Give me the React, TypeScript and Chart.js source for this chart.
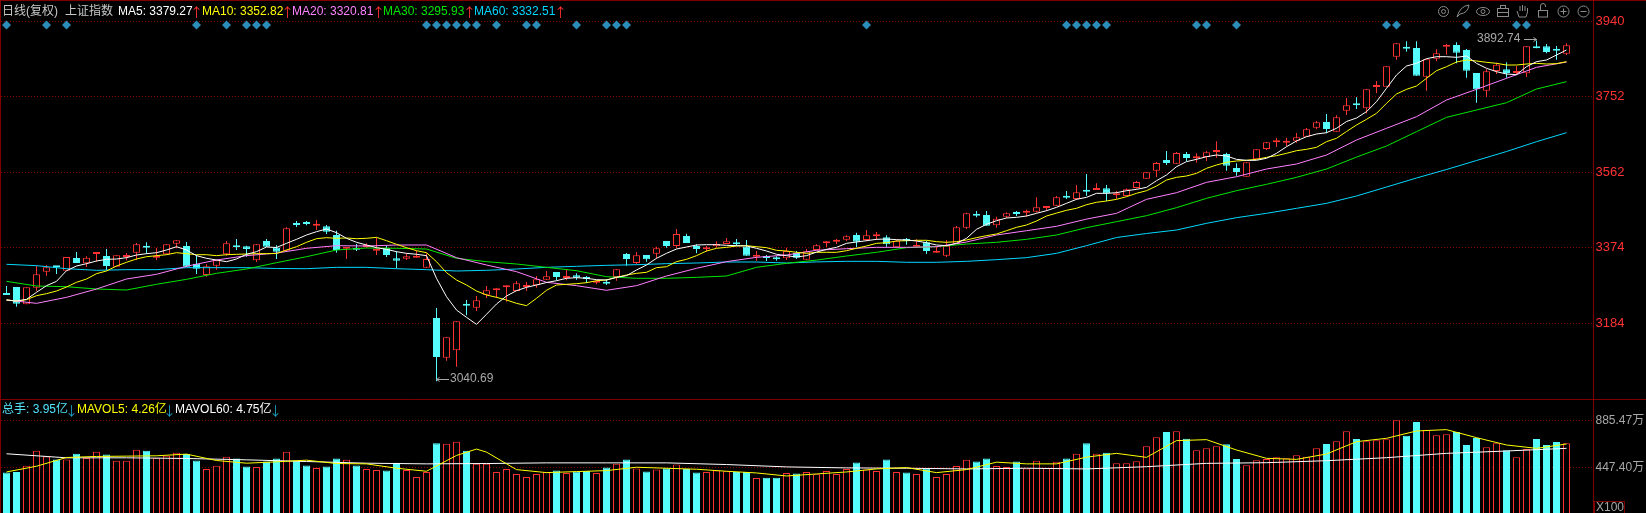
import React, { useEffect, useRef } from "react";
import { Chart, registerables } from "chart.js";

Chart.register(...registerables);

const opens = [3261.25,3276.25,3233,3274.5,3314.5,3328.75,3317,3348.75,3335.5,3358.75,
3353.75,3327,3351,3362,3376,3349.5,3358,3384.5,3378.75,3334.5,
3306,3329.5,3358,3377,3378,3343,3391,3375,3367,3436,
3438.75,3429.5,3428,3406,3372,3373,3376,3367,3374.5,3348,
3347,3349.5,3324.5,3198.75,3099.5,3118,3233,3224.5,3257,3268,
3275.5,3266.25,3276.25,3280.5,3294.5,3313.75,3298.75,3305.5,3298,3287,
3288,3301.25,3358.75,3336.25,3356.25,3359.5,3391,3378.75,3403.75,3378.75,
3370.5,3378,3383.75,3384.5,3377,3352,3350.5,3347,3348,3361.25,
3344.5,3368.75,3385.5,3389.5,3394.5,3406.25,3393.75,3403,3400.5,3375.5,
3393.75,3377,3388,3362,3354.5,3384.5,3424.5,3456.25,3456.25,3430.5,
3452,3462,3462,3464.5,3473.75,3479.5,3503,3496.25,3516.25,3518.75,
3523,3505.5,3503.75,3523.75,3547,3567,3593.75,3584.5,3608.75,3598,
3601.25,3613.75,3608.75,3573.75,3552,3595.5,3621.25,3638,3637,3642,
3652,3674.5,3688.75,3664.5,3717,3733,3723,3776.25,3777,3852,
3874.5,3873.75,3802,3847,3877,3881.25,3868.75,3811.25,3767,3816.25,
3820.5,3811.25,3810.5,3878,3878,3868.75,3859.5];

const closes = [3256.25,3234.5,3275.5,3308,3325.5,3325.5,3351,3336.25,3349.5,3360.5,
3328.75,3355.5,3355.5,3383,3374.5,3352,3383,3393,3327,3322,
3328,3343,3385.5,3375.5,3371,3383,3377,3364.5,3423,3431,
3433.75,3432,3414.5,3368.75,3374.5,3369.5,3378.75,3370.5,3356,3342,
3353,3354.5,3346,3101.25,3150.5,3190.5,3229.5,3243,3268,3273,
3280.5,3285.5,3279.5,3295.5,3303,3301,3301.25,3299.5,3296.25,3292,
3284.5,3320.5,3346.25,3355.5,3345.5,3373,3378.75,3408.75,3386,3371,
3373,3383.75,3390.5,3383,3354.5,3353.75,3348.75,3345.5,3366.25,3349.5,
3365.5,3380.5,3388.75,3391,3403,3389.5,3405.5,3404.5,3383,3392,
3392,3378.75,3366.25,3363.75,3379.5,3425.5,3460.5,3454.5,3429.5,3447,
3460.5,3458.75,3466.25,3475.5,3478,3500.5,3499.5,3513,3514.5,3523,
3510.5,3508,3520.5,3538.75,3563,3586.25,3586.25,3611.25,3598.75,3599.5,
3613,3618.75,3579.5,3563.75,3588,3620.5,3638,3639.5,3638.75,3650.5,
3670.5,3688,3671.25,3700.5,3730.5,3730.5,3770.5,3777.5,3828,3885.5,
3872,3804.5,3845.5,3860.5,3879.5,3862,3817,3770.5,3815.5,3832,
3811.25,3816.25,3878,3873,3863.75,3867,3880.5];

const highs = [3278.75,3276.25,3275.5,3328.75,3331,3328.75,3351,3363.75,3353,3360.5,
3371,3355.5,3361,3386,3388,3374.5,3383,3393,3388.75,3356,
3333,3343.75,3391,3396,3379.5,3383,3396,3380.5,3425.5,3441,
3441,3443.75,3431,3417,3374.5,3383.75,3385.5,3399.5,3378.75,3365.5,
3360.5,3367,3360.5,3223.75,3150.5,3190.5,3243.75,3253.75,3278.75,3273,
3280.5,3291,3288.75,3303.75,3316.25,3313.75,3318.75,3310.5,3303.75,3293.75,
3295.5,3320.5,3361.25,3363.75,3356.25,3377,3391,3421,3409.5,3383,
3378.75,3390.5,3398.75,3396,3393.75,3366,3356.25,3353,3374.5,3366.25,
3371.25,3383,3391,3396,3405.5,3412,3418.75,3413.75,3405.5,3395,
3398.75,3395.5,3392,3377,3393.75,3428.75,3462,3466.25,3466.25,3452,
3463,3466.25,3469.5,3500.5,3478,3503.75,3516.25,3531.25,3558.75,3535.5,
3531.25,3516.25,3522.5,3541.25,3563,3588.75,3616.25,3613.75,3613.75,3610.5,
3616.25,3640.5,3612,3585.5,3588,3620.5,3638.75,3648.75,3649.5,3661.25,
3673.75,3691.25,3708.75,3705.5,3748.75,3750.5,3770.5,3791.25,3828,3885.5,
3890.5,3890.5,3845.5,3870.5,3883.75,3888,3871.25,3811.25,3820.5,3837,
3838,3828.75,3878,3892.74,3883.75,3878.75,3885.5];

const lows = [3256.25,3227,3233,3266,3304.5,3308.75,3317,3336.25,3326,3339.5,
3318.75,3327,3343,3344.5,3359.5,3343.75,3358,3373,3327,3308.75,
3302,3319.5,3354.5,3368.75,3352,3338.75,3377,3346,3367,3426,
3430.5,3418.75,3408.75,3362,3346,3366,3374.5,3356,3351,3323,
3343.75,3349.5,3324.5,3040.69,3092,3077,3205.5,3216.25,3248.75,3249.5,
3239.5,3266.25,3266.25,3274.5,3294.5,3293,3293,3294.5,3286.25,3283,
3281.25,3292,3329.5,3333,3339.5,3348,3374.5,3373,3386,3360.5,
3364.5,3374.5,3383.75,3379.5,3354.5,3342,3341,3342,3343.75,3346.25,
3344.5,3368.75,3376,3383.75,3391,3376.25,3390.5,3394.5,3377,3375.5,
3382,3377,3358.75,3362,3351,3384.5,3421.25,3450.5,3429.5,3424.5,
3448.75,3453.75,3452,3462.5,3467,3479.5,3496.25,3493.75,3504.5,3518.75,
3491.25,3496.25,3503.75,3522.5,3547,3551.25,3581.25,3584.5,3590.5,3587,
3591.25,3599.5,3567,3554.5,3552,3595.5,3618.75,3626.25,3628.75,3637,
3652,3671.25,3660.5,3664.5,3706.25,3721.25,3710.5,3761.25,3777,3844.5,
3864.5,3804.5,3767,3840.5,3857,3835.5,3799.5,3737,3750.5,3808.75,
3799.5,3806.25,3801.25,3873,3860.5,3844.5,3856.25];

const ma5 = [3243.75,3241.25,3245.4,3263,3279.6,3290.4,3317,3328.75,3334.6,3341.25,
3345.4,3346.25,3349.6,3356.25,3359.6,3362,3368.75,3377,3368.75,3354.6,
3348,3343.75,3339.6,3346.25,3358,3364.6,3376.25,3375,3385.4,3395.4,
3406.25,3414.6,3421.25,3412,3398,3388,3381.25,3374.6,3370.4,3364.6,
3360.4,3358,3354.6,3297.9,3252,3218.75,3200.4,3182.9,3208,3233.75,
3253.75,3267,3275.4,3281.25,3287.5,3292,3298,3299.6,3298,3294.6,
3293.75,3300.4,3304.6,3318.75,3331.25,3348,3360.4,3371.25,3376.25,3381.25,
3382,3382,3380.4,3379.6,3378.75,3373,3366.25,3358,3354.6,3351.25,
3354.6,3363.5,3370.4,3375.4,3385.4,3388.75,3392,3395.4,3396.25,3394.6,
3393.75,3391.25,3387,3381.25,3379.6,3385.4,3398,3420.4,3433,3442,
3448.75,3450.4,3453.75,3460.4,3467,3475.4,3485.4,3495.4,3500.4,3510.4,
3510.4,3512,3517,3520.4,3525.4,3542,3556.25,3577,3589.6,3595.4,
3602,3606.25,3603.75,3595.4,3593,3593,3598,3610.4,3627,3641.25,
3652,3658.75,3662,3673,3690,3698.75,3714.6,3739.6,3773,3806.25,
3828.75,3835.4,3847,3852,3852,3850.4,3853.75,3835.4,3823,3814.6,
3808.75,3807,3827,3839.6,3843.75,3856.25,3868.75];

const ma10 = [3243.75,3241.25,3244.6,3254.6,3259.6,3266.25,3276.25,3288,3296.25,3309.6,
3316.25,3328.75,3338,3346.25,3352,3354.6,3357,3362,3359.6,3357,
3357,3354.6,3357,3358,3358.75,3359.6,3359.6,3360,3368.75,3377,
3388,3397,3399.6,3398,3398.75,3397,3398,3400.4,3392,3383,
3374.6,3367,3362,3339.6,3312,3293.75,3281.25,3266.25,3256.25,3250.4,
3243.75,3235.4,3229.6,3248,3268,3281.25,3283,3284.6,3287,3292,
3293.75,3300.4,3306.25,3310.4,3313,3324.6,3327,3339.6,3345.4,3354.6,
3366.25,3373,3375.4,3378.75,3379.6,3377,3374.6,3368,3366.25,3363,
3360.4,3363,3363,3363,3367,3373,3378.75,3385.4,3387,3391.25,
3392,3393,3393,3389.6,3388,3389.6,3393.75,3399.6,3404.6,3408.75,
3417,3425.4,3431.25,3441.25,3453.75,3461,3468,3473,3482,3488,
3491.25,3495.4,3502,3510.4,3517,3528.75,3543.75,3550.4,3553.75,3560.4,
3572.9,3581.25,3588,3591.25,3593,3595.4,3600.4,3604.6,3610.4,3617,
3620.4,3625.4,3639.6,3648,3665,3681.25,3695.4,3710.4,3735.4,3758.75,
3770.4,3778.75,3798,3817,3827,3838.75,3843.75,3841.25,3838,3835.4,
3831.25,3831.25,3833.75,3835.4,3833.75,3834.6,3839.6];

// read at every third session
const ma20 = [3243.75,3235.4,3250.4,3271.25,3296.25,3308,3328,3343.75,3354.6,3361,
3373,3379.6,3378.75,3381.25,3381.25,3349.6,3331.25,3314.6,3288,3279.6,
3268,3279.6,3303.75,3323,3339.6,3350.4,3356.25,3368,3372,3375.4,
3375.4,3377,3388.75,3406.25,3417,3428,3446,3460.4,3495.4,3512,
3537.9,3552,3571.25,3583.75,3606.25,3643.75,3673,3702,3743.75,3770.4,
3798,3825.4,3838.75];

const ma30 = [3290.4,3278.75,3277,3271.25,3268.75,3283,3295.4,3310.4,3321.25,3337,
3352,3368.75,3373.75,3373,3371.25,3348,3339.6,3333.75,3325.4,3317,
3302,3298,3298,3300.4,3303.75,3325.4,3335.4,3343.5,3353.75,3363,
3374.6,3377,3383.75,3388,3395.4,3406.25,3424.6,3439.6,3454.6,3474.6,
3497.9,3517,3532.9,3550.4,3571.25,3601,3628.75,3664.6,3700.4,3718.75,
3737,3771.25,3789.6];

const ma60 = [3333,3329.6,3322,3318,3319.6,3319.6,3324.6,3324.6,3324.6,3322.5,
3322,3325.4,3325.4,3322,3319.6,3316.25,3318,3321.25,3325.4,3328,
3330.4,3332,3334.6,3336.25,3338.75,3338.75,3336.25,3339,3340.4,3340.4,
3338,3338,3340.4,3344.6,3349.6,3360.4,3379.6,3400,3410,3418.75,
3435.4,3449.6,3460.4,3472.9,3485.4,3503.75,3526.25,3548.75,3570,3592.5,
3615,3639.5,3662];

const volumes = [398,404,461,602,548.4,520,520,573.5,533,592,
567,508,508,611,602,536,555,583,570.3,511,
432.4,461,545,530,454.3,451,501.4,530,592,511,
464,442,454.3,530,517,464,432.4,423,416.7,489,
423,357,404,670.7,667.5,686.3,602,479.4,479.4,404,
432.4,385.4,357,385.4,401,416.7,394.8,407.3,413.6,394.8,
444.9,479.4,520.2,435.5,407.3,426.1,438.7,473.2,432.4,397.9,
404.2,416.7,410.5,404.2,404.2,347.8,350.9,350.9,394.8,388.5,
404.2,382.2,413.6,385.4,432.4,492,426.1,413.6,520.2,404.2,
397.9,385.4,435.5,357.2,385.4,460.6,517,501.4,529.6,460.6,
451.2,501.4,435.5,507.6,441.8,498.2,529.6,573.5,670.7,573.5,
583.7,484.1,484.1,502.8,642.9,726.9,776.7,782.9,714.4,605.5,
624.2,642.9,661.5,524.6,465.5,512.1,524.6,540.2,530.8,558.8,
546.4,624.2,664.6,689.5,782.9,711.3,689.5,698.9,708.2,885.6,
742.4,870,798.5,745.5,754.9,776.7,655.3,720.7,633.5,670.9,
605.5,540.2,618,711.3,655.3,683.3,670.9];

const mavol5Sessions = [0,3,6,9,12,15,18,21,24,27,30,33,36,39,42,45,47,48,51,54,57,60,63,66,69,72,75,78,81,84,87,90,93,96,99,102,105,108,111,114,117,120,123,126,129,132,135,138,141,144,147,150,153,156];
const mavol5 = [404,457.5,539,548.4,551.5,554.7,570.3,510.8,485.7,498.2,513.9,482.6,479.4,438.7,410.5,557.8,617.4,589,426,397.9,
407.3,416.7,448,438.7,429.3,410.5,394.8,366.6,385.4,404,432.4,444.9,397.9,426.1,495.1,479.4,479.4,542.1,
577.5,540.2,695.8,705.1,608.6,530.8,521.5,571.3,686.4,717.5,786,798.5,723.8,655.3,624.2,664.6];

const mavol60Sessions = [0,6,12,18,24,30,36,42,48,54,60,66,72,78,84,90,96,102,108,114,120,126,132,138,144,150,156];
const mavol60 = [573.5,535.8,535.8,529.6,517,501.4,485.7,479.4,482.6,488.8,488.8,488.8,473.2,451.2,441.8,438.7,432.4,438.7,432.4,453,484.1,490.4,509,537,577.5,599.3,624.2];

const signalSessions = [0,4,6,19,22,24,25,26,42,43,44,45,46,47,49,52,53,57,60,61,62,86,106,107,108,109,110,119,120,123,138,139,146,151,152];
const signalLevel = 3931.25;

const priceTicks = [3184, 3374, 3562, 3752, 3940];
const volumeTicks = [447.4, 885.47];

const RED = "#ff3232";
const CYAN = "#54fcfc";
const FRAME = "#800000";
const FONT = "12px 'Liberation Sans','Noto Sans CJK SC',sans-serif";
const ARROW_FONT = "13px 'Noto Sans CJK SC',sans-serif";

const sessions = opens.map((_, i) => i);
const isUp = sessions.map((i) => closes[i] >= opens[i]);
const lineColors = isUp.map((u) => (u ? RED : CYAN));
const fillColors = isUp.map((u) => (u ? "#000000" : CYAN));
const everyThird = sessions.filter((i) => i % 3 === 0);

const line = (label: string, xs: number[], ys: number[], color: string, axis: string, order: number) => ({
  type: "line" as const,
  label,
  data: ys.map((y, k) => ({ x: xs[k], y })),
  borderColor: color,
  borderWidth: 1,
  pointRadius: 0,
  tension: 0,
  yAxisID: axis,
  order,
});

type Piece = [string, number, string];
const priceHeader: Piece[] = [
  ["日线(复权)", 2, "#c8c8c8"],
  ["上证指数", 65, "#c8c8c8"],
  ["MA5: 3379.27", 118, "#ffffff"],
  ["↑", 190, RED],
  ["MA10: 3352.82", 202, "#ffff00"],
  ["↑", 281, RED],
  ["MA20: 3320.81", 292, "#ff80ff"],
  ["↑", 372, RED],
  ["MA30: 3295.93", 383, "#00e600"],
  ["↑", 463, RED],
  ["MA60: 3332.51", 474, "#00d8ff"],
  ["↑", 554, RED],
];
const volumeHeader: Piece[] = [
  ["总手: 3.95亿", 2, "#54e4fc"],
  ["↓", 65, "#1a9cc0"],
  ["MAVOL5: 4.26亿", 77, "#ffff00"],
  ["↓", 163, "#1a9cc0"],
  ["MAVOL60: 4.75亿", 175, "#ffffff"],
  ["↓", 269, "#1a9cc0"],
];

function drawIcons(ctx: CanvasRenderingContext2D) {
  ctx.save();
  ctx.strokeStyle = "#8a8a8a";
  ctx.fillStyle = "#8a8a8a";
  ctx.lineWidth = 1;
  const y = 11.5;
  // gear
  ctx.beginPath(); ctx.arc(1443.5, y, 5, 0, Math.PI * 2); ctx.stroke();
  ctx.beginPath(); ctx.arc(1443.5, y, 2, 0, Math.PI * 2); ctx.stroke();
  // feather
  ctx.beginPath(); ctx.moveTo(1457, 17); ctx.quadraticCurveTo(1460, 6, 1469, 5); ctx.quadraticCurveTo(1468, 13, 1460, 14); ctx.closePath(); ctx.stroke();
  // eye
  ctx.beginPath(); ctx.ellipse(1483, y, 6.5, 4, 0, 0, Math.PI * 2); ctx.stroke();
  ctx.beginPath(); ctx.arc(1483, y, 2, 0, Math.PI * 2); ctx.stroke();
  // briefcase
  ctx.strokeRect(1497.5, 8.5, 11, 8);
  ctx.strokeRect(1500.5, 5.5, 5, 3);
  ctx.beginPath(); ctx.moveTo(1497, 12.5); ctx.lineTo(1509, 12.5); ctx.stroke();
  // hand
  ctx.beginPath();
  ctx.moveTo(1519, 17); ctx.lineTo(1517, 11); ctx.moveTo(1520, 11); ctx.lineTo(1520, 6);
  ctx.moveTo(1522.5, 11); ctx.lineTo(1522.5, 5); ctx.moveTo(1525, 11); ctx.lineTo(1525, 6);
  ctx.moveTo(1527.5, 12); ctx.lineTo(1527.5, 8); ctx.moveTo(1527.5, 12); ctx.lineTo(1526, 17); ctx.lineTo(1519, 17);
  ctx.stroke();
  // lock
  ctx.strokeRect(1538.5, 10.5, 9, 6.5);
  ctx.beginPath(); ctx.moveTo(1540.5, 10); ctx.lineTo(1540.5, 6); ctx.arc(1543, 6, 2.5, Math.PI, 0); ctx.lineTo(1545.5, 7); ctx.stroke();
  // plus and minus
  ctx.beginPath(); ctx.arc(1563.5, y, 5.5, 0, Math.PI * 2); ctx.moveTo(1560.5, y); ctx.lineTo(1566.5, y); ctx.moveTo(1563.5, y - 3); ctx.lineTo(1563.5, y + 3); ctx.stroke();
  ctx.beginPath(); ctx.arc(1583.5, y, 5.5, 0, Math.PI * 2); ctx.moveTo(1580.5, y); ctx.lineTo(1586.5, y); ctx.stroke();
  ctx.restore();
}

const chrome = {
  id: "chrome",
  afterDraw(chart: Chart) {
    const ctx = chart.ctx;
    ctx.save();
    ctx.textBaseline = "middle";
    ctx.textAlign = "left";
    const put = ([t, x, c]: Piece, y: number) => {
      ctx.font = t.length === 1 ? ARROW_FONT : FONT;
      ctx.fillStyle = c;
      ctx.fillText(t, x, y);
    };
    priceHeader.forEach((p) => put(p, 12));
    volumeHeader.forEach((p) => put(p, 410));
    ctx.font = FONT;

    // extreme labels with their pointers
    const px = chart.scales.x, py = chart.scales.y;
    const hiI = highs.indexOf(Math.max(...highs));
    const loI = lows.indexOf(Math.min(...lows));
    const hx = px.getPixelForValue(hiI), hy = py.getPixelForValue(highs[hiI]);
    const lx = px.getPixelForValue(loI), ly = py.getPixelForValue(lows[loI]);
    ctx.fillStyle = "#a8a8a8";
    ctx.fillText(highs[hiI].toFixed(2), 1477, Math.round(hy) - 1);
    ctx.fillText(lows[loI].toFixed(2), 450, Math.round(ly) - 2);
    ctx.strokeStyle = "#a8a8a8";
    ctx.lineWidth = 1;
    ctx.beginPath();
    const ay = Math.round(hy) - 0.5;
    ctx.moveTo(1524, ay); ctx.lineTo(hx, ay); ctx.moveTo(hx - 3, ay - 2); ctx.lineTo(hx, ay); ctx.lineTo(hx - 3, ay + 2);
    const by = Math.round(ly) - 1.5;
    ctx.moveTo(449, by); ctx.lineTo(lx, by); ctx.moveTo(lx + 3, by - 2); ctx.lineTo(lx, by); ctx.lineTo(lx + 3, by + 2);
    ctx.stroke();

    // frame
    ctx.strokeStyle = FRAME;
    ctx.beginPath();
    ctx.moveTo(0, 0.5); ctx.lineTo(1646, 0.5);
    ctx.moveTo(0.5, 0); ctx.lineTo(0.5, 513);
    ctx.moveTo(0, 399.5); ctx.lineTo(1646, 399.5);
    ctx.stroke();
    ctx.strokeRect(1594.5, 501.5, 30, 14);
    ctx.fillStyle = "#a8a8a8";
    ctx.fillText("X100", 1596, 507.5);
    ctx.restore();
    drawIcons(ctx);
  },
};

const fitAxis = (s: any) => {
  s.width = 52.5;
  s.paddingTop = 0;
  s.paddingBottom = 0;
};

export default function App() {
  const ref = useRef<HTMLCanvasElement>(null);
  useEffect(() => {
    document.body.style.margin = "0";
    document.body.style.background = "#000";
    const chart = new Chart(ref.current!, {
      type: "bar",
      data: {
        datasets: [
          {
            label: "影线",
            data: sessions.map((i) => ({ x: i, y: [lows[i], highs[i]] })),
            backgroundColor: lineColors,
            borderWidth: 0,
            barThickness: 1,
            grouped: false,
            inflateAmount: 0,
            yAxisID: "y",
            order: 12,
          },
          {
            label: "K线",
            data: sessions.map((i) => ({ x: i, y: [opens[i], closes[i]] })),
            backgroundColor: fillColors,
            borderColor: lineColors,
            borderWidth: 1,
            borderSkipped: false,
            barThickness: 7,
            minBarLength: 2,
            grouped: false,
            inflateAmount: 0,
            yAxisID: "y",
            order: 11,
          },
          {
            label: "总手",
            data: sessions.map((i) => ({ x: i, y: [0, volumes[i]] })),
            backgroundColor: fillColors,
            borderColor: lineColors,
            borderWidth: 1,
            borderSkipped: false,
            barThickness: 7,
            grouped: false,
            inflateAmount: 0,
            yAxisID: "yVol",
            order: 10,
          },
          line("MA60", everyThird, ma60, "#00d8ff", "y", 9),
          line("MA30", everyThird, ma30, "#00e600", "y", 8),
          line("MA20", everyThird, ma20, "#ff80ff", "y", 7),
          line("MA10", sessions, ma10, "#ffff00", "y", 6),
          line("MA5", sessions, ma5, "#ffffff", "y", 5),
          line("MAVOL60", mavol60Sessions, mavol60, "#ffffff", "yVol", 4),
          line("MAVOL5", mavol5Sessions, mavol5, "#ffff00", "yVol", 3),
          {
            type: "line" as const,
            label: "信号",
            data: signalSessions.map((i) => ({ x: i, y: signalLevel })),
            showLine: false,
            pointStyle: "rectRot",
            pointRadius: 4.5,
            pointBackgroundColor: "#2b8cb8",
            pointBorderWidth: 0,
            yAxisID: "y",
            order: 2,
          },
        ] as any,
      },
      options: {
        responsive: false,
        animation: false,
        events: [],
        layout: { autoPadding: false, padding: { left: 1, top: 1, right: 0, bottom: 0 } },
        plugins: { legend: { display: false }, tooltip: { enabled: false }, title: { display: false } },
        scales: {
          x: { type: "linear", display: false, offset: false, min: -0.55, max: 158.7 },
          y: {
            type: "linear",
            position: "right",
            stack: "panels",
            stackWeight: 398,
            min: 2996.25,
            max: 3991.25,
            afterBuildTicks: (s: any) => { s.ticks = priceTicks.map((value) => ({ value })); },
            afterFit: fitAxis,
            grid: { color: FRAME, drawTicks: false, lineWidth: 1 },
            border: { color: FRAME, dash: [1, 2], display: true },
            ticks: { color: RED, font: { size: 13, family: "'Liberation Sans',sans-serif" }, padding: 2, autoSkip: false, callback: (v: any) => String(v) },
          },
          yVol: {
            type: "linear",
            position: "right",
            stack: "panels",
            stackWeight: 114,
            min: 21.5,
            max: 1084,
            afterBuildTicks: (s: any) => { s.ticks = volumeTicks.map((value) => ({ value })); },
            afterFit: fitAxis,
            grid: { color: FRAME, drawTicks: false, lineWidth: 1 },
            border: { color: FRAME, dash: [1, 2], display: true },
            ticks: { color: "#a8a8a8", font: { size: 12, family: "'Liberation Sans','Noto Sans CJK SC',sans-serif" }, padding: 2, autoSkip: false, callback: (v: any) => Number(v).toFixed(2) + "万" },
          },
        },
      } as any,
      plugins: [chrome],
    });
    return () => chart.destroy();
  }, []);
  return <canvas ref={ref} width={1646} height={513} style={{ display: "block", background: "#000" }} />;
}
